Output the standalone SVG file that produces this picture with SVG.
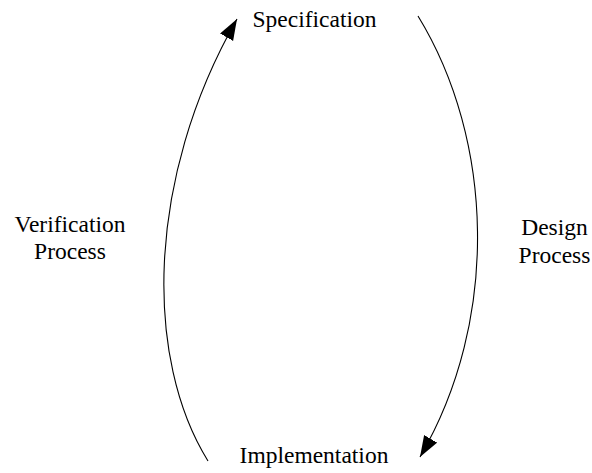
<svg xmlns="http://www.w3.org/2000/svg" width="592" height="473" viewBox="0 0 592 473">
<style>
.lbl{font-family:"Liberation Serif","Times New Roman",serif;font-size:23.5px;fill:#000;text-anchor:middle}
.arc{fill:none;stroke:#000;stroke-width:1.1}
</style>
<defs>
<marker id="ah" markerUnits="userSpaceOnUse" markerWidth="22" markerHeight="16" viewBox="0 0 22 16" refX="21" refY="7.5" orient="auto">
<path d="M0,0 L21,7.5 L0,15 Z" fill="#000"/>
</marker>
</defs>
<rect width="592" height="473" fill="#fff"/>
<g id="connectors">
<path class="arc" d="M208,461 C145,360 145,180 237,19" marker-end="url(#ah)"/>
<path class="arc" d="M418,16 C494,140 500,320 420,457" marker-end="url(#ah)"/>
</g>
<g id="specification"><text class="lbl" x="314.5" y="27">Specification</text></g>
<g id="implementation"><text class="lbl" x="314" y="463">Implementation</text></g>
<g id="verification-process"><text class="lbl" x="70" y="232">Verification</text><text class="lbl" x="70" y="259">Process</text></g>
<g id="design-process"><text class="lbl" x="554.5" y="235">Design</text><text class="lbl" x="554.5" y="263">Process</text></g>
</svg>
